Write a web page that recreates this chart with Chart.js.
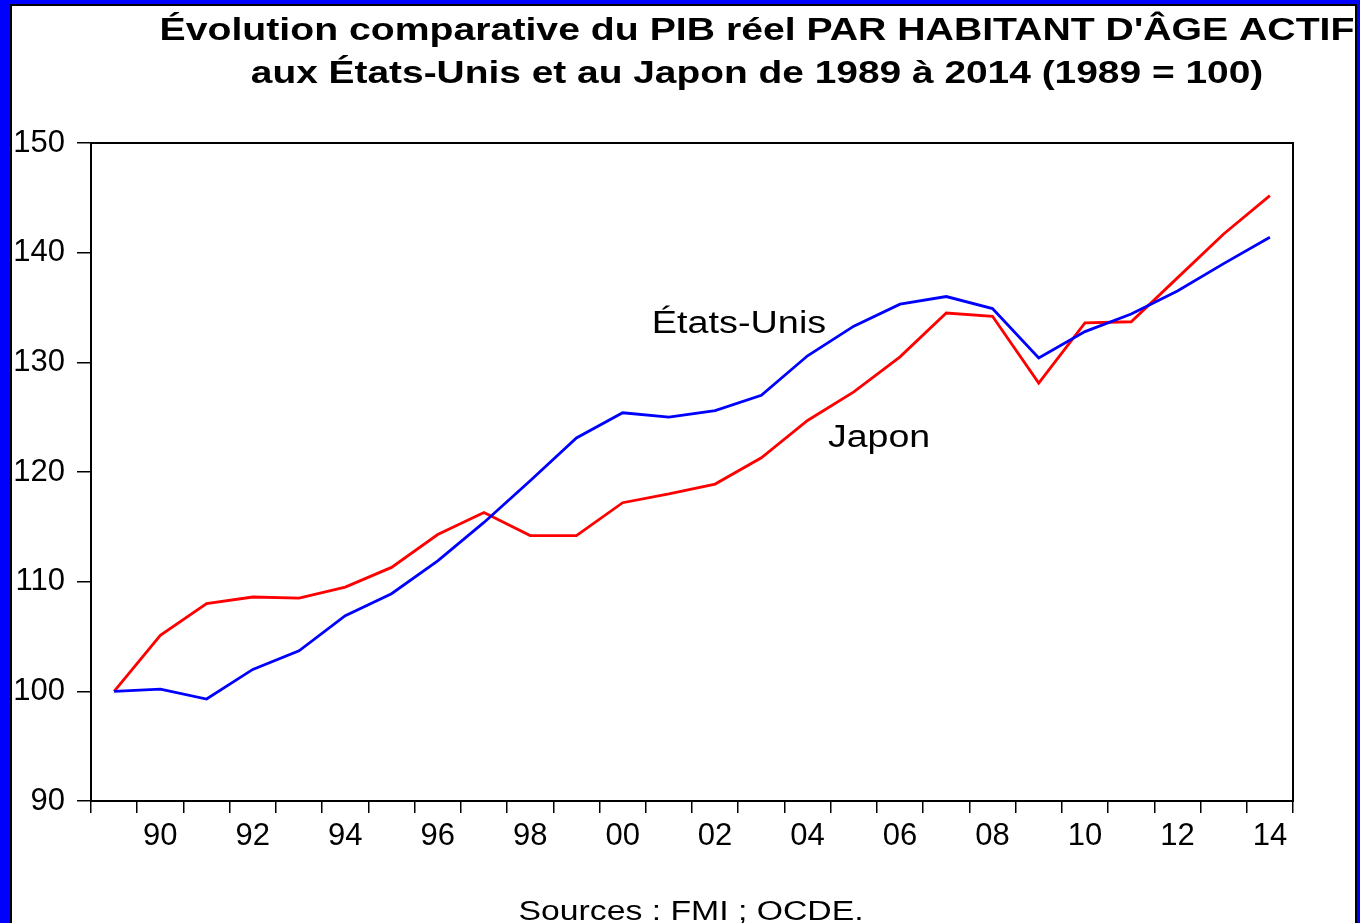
<!DOCTYPE html>
<html lang="fr">
<head>
<meta charset="utf-8">
<title>PIB réel par habitant d'âge actif</title>
<script src="https://cdn.jsdelivr.net/npm/chart.js@4.4.1/dist/chart.umd.min.js"></script>
<style>
  html, body { margin: 0; padding: 0; width: 1360px; height: 923px; overflow: hidden; background: #0000ff; }
  #cadre { position: absolute; left: 10px; top: 4px; width: 1343px; height: 960px; border: 2px solid #000; background: #fff; }
  #pib { position: absolute; left: 0; top: 0; }
</style>
</head>
<body>
<div id="cadre"></div>
<canvas id="pib" width="1360" height="923"></canvas>
<script>
// Données (indice 1989 = 100)
const annees = ["1989", "1990", "1991", "1992", "1993", "1994", "1995", "1996", "1997",
  "1998", "1999", "2000", "2001", "2002", "2003", "2004", "2005", "2006", "2007",
  "2008", "2009", "2010", "2011", "2012", "2013", "2014"];
const etiquettesX = ["", "90", "", "92", "", "94", "", "96", "", "98", "", "00", "",
  "02", "", "04", "", "06", "", "08", "", "10", "", "12", "", "14"];
const etatsUnis = [100.0, 100.2, 99.3, 102.0, 103.7, 106.9, 108.9, 111.9, 115.4,
  119.2, 123.1, 125.4, 125.0, 125.6, 127.0, 130.6, 133.3, 135.3, 136.0,
  134.9, 130.4, 132.8, 134.4, 136.5, 139.0, 141.4];
const japon = [100.0, 105.1, 108.0, 108.6, 108.5, 109.5, 111.3, 114.3, 116.3,
  114.2, 114.2, 117.2, 118.0, 118.9, 121.3, 124.7, 127.3, 130.5, 134.5,
  134.2, 128.1, 133.6, 133.7, 137.7, 141.7, 145.2];

const POLICE = '"Liberation Sans", Arial, sans-serif';

// textes posés sur le graphique (titre, noms des séries, sources)
const textes = [
  { t: "Évolution comparative du PIB réel PAR HABITANT D'ÂGE ACTIF", x: 757, y: 40, font: "bold 32px " + POLICE, sx: 1.225 },
  { t: "aux États-Unis et au Japon de 1989 à 2014 (1989 = 100)", x: 757, y: 83, font: "bold 32px " + POLICE, sx: 1.215 },
  { t: "États-Unis", x: 739, y: 333, font: "31px " + POLICE, sx: 1.22 },
  { t: "Japon", x: 879, y: 447, font: "31px " + POLICE, sx: 1.21 },
  { t: "Sources : FMI ; OCDE.", x: 691, y: 920, font: "27px " + POLICE, sx: 1.25 },
];

const pluginTextes = {
  id: "textes",
  afterDraw(chart) {
    const ctx = chart.ctx;
    const a = chart.chartArea;
    ctx.save();
    // cadre noir autour de la zone de tracé
    ctx.strokeStyle = "#000";
    ctx.lineWidth = 2;
    ctx.strokeRect(a.left, a.top, a.right - a.left, a.bottom - a.top);
    // découpe au cadre de la page
    ctx.beginPath();
    ctx.rect(12, 6, 1343, 917);
    ctx.clip();
    ctx.fillStyle = "#000";
    ctx.textAlign = "center";
    ctx.textBaseline = "alphabetic";
    textes.forEach((e) => {
      ctx.save();
      ctx.font = e.font;
      ctx.translate(e.x, e.y);
      ctx.scale(e.sx, 1);
      ctx.fillText(e.t, 0, 0);
      ctx.restore();
    });
    ctx.restore();
  },
};

new Chart(document.getElementById("pib").getContext("2d"), {
  type: "line",
  data: {
    labels: annees,
    datasets: [
      { label: "États-Unis", data: etatsUnis, borderColor: "#0000ff", borderWidth: 2.8, pointRadius: 0, tension: 0 },
      { label: "Japon", data: japon, borderColor: "#ff0000", borderWidth: 2.8, pointRadius: 0, tension: 0 },
    ],
  },
  options: {
    responsive: false,
    animation: false,
    layout: { padding: { left: 0, top: 143, right: 67, bottom: 62 } },
    plugins: { legend: { display: false }, title: { display: false }, tooltip: { enabled: false } },
    scales: {
      x: {
        offset: true,
        grid: { offset: true, drawOnChartArea: false, color: "#000", lineWidth: 1.5, tickLength: 12 },
        border: { color: "#000", width: 2 },
        ticks: {
          autoSkip: false, maxRotation: 0, padding: 5, color: "#000",
          font: { family: POLICE, size: 31 },
          callback: (v, i) => etiquettesX[i],
        },
        afterFit: (s) => { s.height = 60; },
      },
      y: {
        min: 90, max: 150,
        grid: { drawOnChartArea: false, color: "#000", lineWidth: 1.5, tickLength: 14 },
        border: { color: "#000", width: 2 },
        ticks: { stepSize: 10, padding: 12, color: "#000", font: { family: POLICE, size: 31 } },
        afterFit: (s) => { s.width = 91; },
      },
    },
  },
  plugins: [pluginTextes],
});
</script>
</body>
</html>
